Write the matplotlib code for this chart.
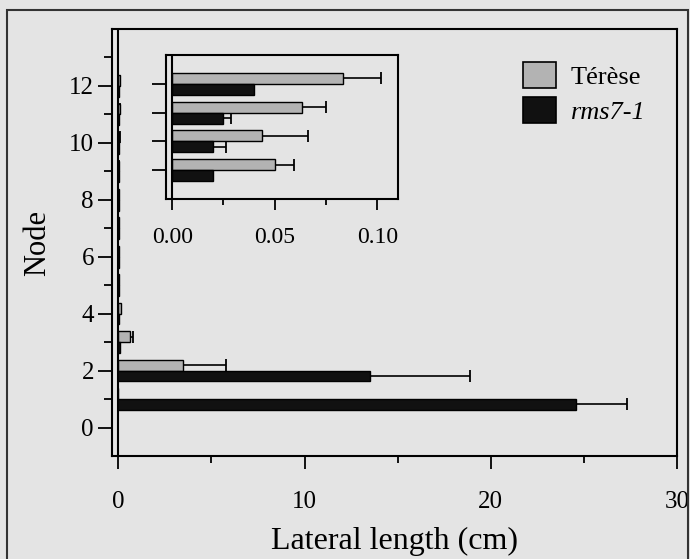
import matplotlib

matplotlib.use("Agg")

import matplotlib.pyplot as plt
import numpy as np
from matplotlib.patches import Patch, Rectangle

# node numbers and mean lateral length (cm) with upper error
nodes = np.arange(1, 13)
terese = [0.0, 3.45, 0.60, 0.12, 0.02, 0.02, 0.02, 0.02, 0.050, 0.044, 0.063, 0.083]
terese_err = [0.0, 2.35, 0.20, 0.0, 0.0, 0.0, 0.0, 0.0, 0.0095, 0.022, 0.012, 0.0186]
rms = [24.6, 13.5, 0.10, 0.05, 0.02, 0.02, 0.02, 0.02, 0.020, 0.020, 0.025, 0.040]
rms_err = [2.7, 5.4, 0.0, 0.0, 0.0, 0.0, 0.0, 0.0, 0.0, 0.006, 0.0037, 0.0]

inset_nodes = [9, 10, 11, 12]

BG = "#e4e4e4"
GREY = "#b3b3b3"
DARK = "#111111"
plt.rcParams["font.family"] = ["Liberation Serif", "DejaVu Serif"]


def one_sided_err(ax, vals, errs, y):
    # error line only to the right, cap only at the outer end
    mask = errs > 0
    ax.hlines(y[mask], vals[mask], vals[mask] + errs[mask], color="black", linewidth=1.2, zorder=2)
    ax.plot(vals[mask] + errs[mask], y[mask], linestyle="none", marker="|",
            markersize=8, markeredgewidth=1.3, color="black", zorder=2)


def draw_bars(ax, node_list):
    idx = [int(n) - 1 for n in node_list]
    y = np.array(node_list, dtype=float)
    t = np.array(terese)[idx]
    te = np.array(terese_err)[idx]
    r = np.array(rms)[idx]
    re = np.array(rms_err)[idx]
    h = 0.38
    ax.barh(y + h / 2, t, height=h, color=GREY, edgecolor="black", linewidth=1.0, zorder=3)
    ax.barh(y - h / 2, r, height=h, color=DARK, edgecolor="black", linewidth=1.0, zorder=3)
    one_sided_err(ax, t, te, y + h / 2)
    one_sided_err(ax, r, re, y - h / 2)
    ax.axvline(0, color="black", linewidth=1.5, zorder=4)
    ax.set_facecolor(BG)
    for s in ax.spines.values():
        s.set_linewidth(1.5)


fig = plt.figure(figsize=(6.9, 5.59), dpi=100, facecolor=BG)
ax = fig.add_axes([112 / 690, 1 - 456 / 559, 565 / 690, 427 / 559])
draw_bars(ax, nodes)
ax.set_xlim(-0.34, 30)
ax.set_ylim(-1, 14)
ax.set_xticks([0, 10, 20, 30])
ax.set_xticks([5, 15, 25], minor=True)
ax.set_yticks(np.arange(0, 13, 2))
ax.set_yticks(np.arange(1, 14, 2), minor=True)
ax.tick_params(axis="both", which="major", labelsize=18, width=1.3)
ax.tick_params(axis="y", which="major", length=10, pad=3)
ax.tick_params(axis="y", which="minor", length=6, width=1.3)
ax.tick_params(axis="x", which="major", length=9, pad=16)
ax.tick_params(axis="x", which="minor", length=5, width=1.3)
ax.set_xlabel("Lateral length (cm)", fontsize=23, labelpad=10)
ax.set_ylabel("Node", fontsize=22, labelpad=12)

handles = [Patch(facecolor=GREY, edgecolor="black", linewidth=1.2),
           Patch(facecolor=DARK, edgecolor="black", linewidth=1.2)]
leg = ax.legend(handles, ["Térèse", "rms7-1"], loc="upper left",
                bbox_to_anchor=(523 / 690, 1 - 62 / 559), bbox_transform=fig.transFigure,
                frameon=False, fontsize=19, handlelength=1.25, handleheight=1.15,
                handletextpad=0.55, labelspacing=0.3, borderpad=0, borderaxespad=0)
leg.get_texts()[1].set_style("italic")

ins = fig.add_axes([166 / 690, 1 - 199 / 559, 232 / 690, 144 / 559])
draw_bars(ins, inset_nodes)
ins.set_xlim(-0.003, 0.11)
ins.set_ylim(8, 13)
ins.set_xticks([0.0, 0.05, 0.10])
ins.set_xticklabels(["0.00", "0.05", "0.10"])
ins.set_xticks([0.025, 0.075], minor=True)
ins.set_yticks([9, 10, 11, 12])
ins.set_yticklabels([])
ins.tick_params(axis="both", which="major", labelsize=17, width=1.3)
ins.tick_params(axis="y", which="major", length=10)
ins.tick_params(axis="x", which="major", length=8, pad=12)
ins.tick_params(axis="x", which="minor", length=4, width=1.3)

fig.patches.append(Rectangle((7 / 690, -0.02), 681 / 690, 1.02 - 10 / 559,
                             transform=fig.transFigure, fill=False,
                             edgecolor="#333333", linewidth=1.5))

fig.savefig("out.png", dpi=100, facecolor=BG)
